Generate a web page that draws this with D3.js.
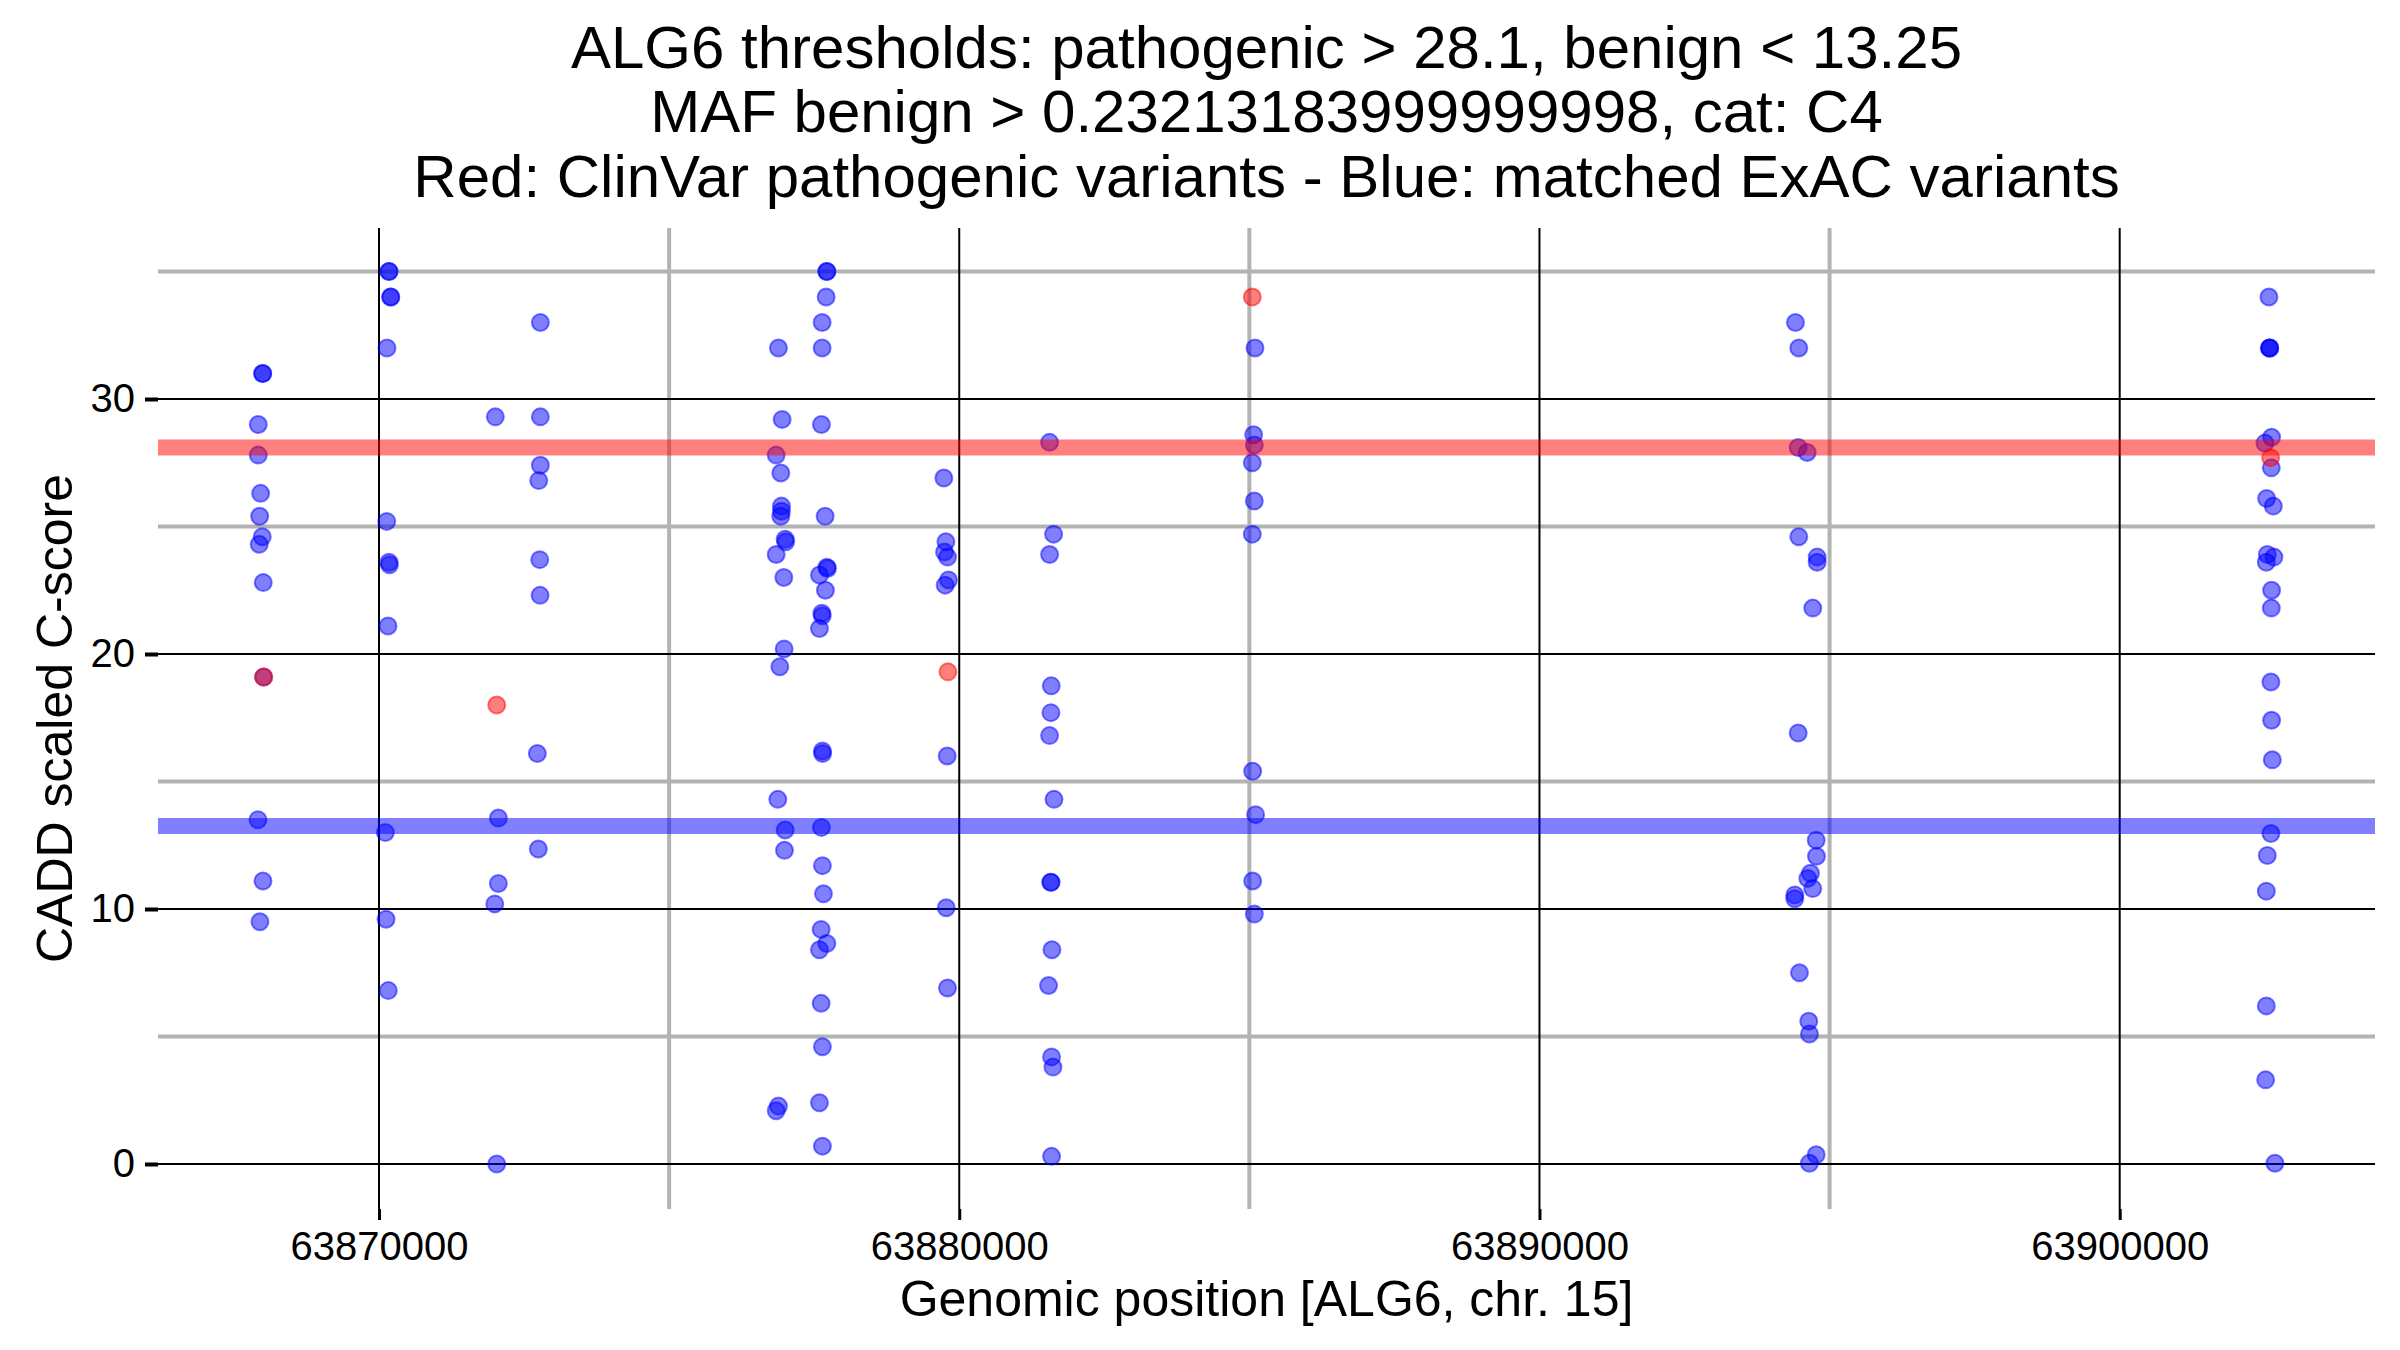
<!DOCTYPE html>
<html>
<head>
<meta charset="utf-8">
<script src="https://cdn.jsdelivr.net/npm/d3@7"></script>
<style>
  html, body { margin: 0; padding: 0; background: #ffffff; }
  svg { display: block; }
  text { font-family: "Liberation Sans", Arial, Helvetica, sans-serif; }
</style>
</head>
<body>
<svg id="chart" width="2400" height="1350"></svg>
<script>
// ---- Data ----
const titleLines = [
  "ALG6 thresholds: pathogenic > 28.1, benign < 13.25",
  "MAF benign > 0.23213183999999998, cat: C4",
  "Red: ClinVar pathogenic variants - Blue: matched ExAC variants"
];
const xLabel = "Genomic position [ALG6, chr. 15]";
const yLabel = "CADD scaled C-score";

const pathogenicThreshold = 28.1;
const benignThreshold = 13.25;

const xMajorTicks = [63870000, 63880000, 63890000, 63900000];
const xMinorTicks = [63875000, 63885000, 63895000];
const yMajorTicks = [0, 10, 20, 30];
const yMinorTicks = [5, 15, 25, 35];

// matched ExAC variants (blue)
const bluePos = [
  63867995, 63867995, 63867919, 63867919, 63867960, 63867943, 63867988, 63867936, 63868005, 63868012, 63867914, 63868000, 63867948,
  63870172, 63870172, 63870202, 63870202, 63870138, 63870133, 63870172, 63870180, 63870155, 63870109, 63870121, 63870160,
  63872005, 63872057, 63872057, 63871995, 63872029,
  63872781, 63872781, 63872781, 63872753, 63872770, 63872776, 63872729, 63872746,
  63876884, 63876948, 63876845, 63876925, 63876936, 63876936, 63876925, 63877000, 63877010, 63876845, 63876977, 63876982, 63876908, 63876873, 63877000, 63876988, 63876884, 63876845,
  63877718, 63877718, 63877706, 63877637, 63877637, 63877625, 63877689, 63877718, 63877730, 63877591, 63877694, 63877632, 63877640, 63877591, 63877642, 63877645, 63877625, 63877642, 63877660, 63877620, 63877718, 63877591, 63877620, 63877642, 63877591, 63877642,
  63879735, 63879770, 63879746, 63879798, 63879815, 63879758, 63879793, 63879776, 63879798,
  63881557, 63881626, 63881557, 63881586, 63881580, 63881557, 63881633, 63881580, 63881580, 63881598, 63881539, 63881591, 63881615, 63881591,
  63885097, 63885074, 63885086, 63885051, 63885086, 63885051, 63885057, 63885108, 63885057, 63885086,
  63894412, 63894469, 63894459, 63894614, 63894469, 63894786, 63894786, 63894710, 63894459, 63894769, 63894774, 63894670, 63894624, 63894710, 63894400, 63894400, 63894481, 63894641, 63894653, 63894769, 63894653,
  63902572, 63902584, 63902584, 63902584, 63902618, 63902503, 63902613, 63902532, 63902647, 63902544, 63902658, 63902527, 63902618, 63902613, 63902606, 63902618, 63902630, 63902606, 63902544, 63902527, 63902527, 63902515, 63902675
];
const blueScore = [
  31.0, 31.0, 29.0, 27.8, 26.3, 25.4, 24.6, 24.3, 22.8, 19.1, 13.5, 11.1, 9.5,
  35.0, 35.0, 34.0, 34.0, 32.0, 25.2, 23.6, 23.5, 21.1, 13.0, 9.6, 6.8,
  29.3, 13.57, 11.0, 10.2, 0.0,
  33.0, 29.3, 27.4, 26.8, 23.7, 22.3, 16.1, 12.35,
  32.0, 29.2, 27.8, 27.1, 25.8, 25.6, 25.4, 24.5, 24.4, 23.9, 23.0, 20.2, 19.5, 14.3, 13.1, 12.3, 2.27, 2.09,
  35.0, 35.0, 34.0, 33.0, 32.0, 29.0, 25.4, 23.4, 23.35, 23.1, 22.5, 21.6, 21.5, 21.0, 16.2, 16.1, 13.2, 11.7, 10.6, 9.2, 8.65, 8.4, 6.3, 4.6, 2.4, 0.7,
  26.9, 24.4, 24.0, 23.8, 22.9, 22.7, 16.0, 10.05, 6.9,
  28.3, 24.7, 23.9, 18.75, 17.7, 16.8, 14.3, 11.05, 11.05, 8.4, 7.0, 4.2, 3.8, 0.3,
  32.0, 28.6, 28.2, 27.5, 26.0, 24.7, 15.4, 13.7, 11.1, 9.8,
  33.0, 32.0, 28.1, 27.9, 24.6, 23.8, 23.6, 21.8, 16.9, 12.7, 12.07, 11.4, 11.2, 10.8, 10.55, 10.4, 7.5, 5.6, 5.1, 0.36, 0.03,
  34.0, 32.0, 32.0, 32.0, 28.5, 28.27, 27.3, 26.1, 25.8, 23.9, 23.8, 23.6, 22.5, 21.8, 18.9, 17.4, 15.85, 12.96, 12.1, 10.7, 6.2, 3.3, 0.03
];

// ClinVar pathogenic variants (red)
const redPos = [63868012, 63872029, 63879805, 63885051, 63902601];
const redScore = [19.1, 18.0, 19.3, 34.0, 27.7];

// ---- Layout ----
const panel = { left: 158, right: 2375, top: 228, bottom: 1209 };
const svg = d3.select("#chart");

const x = d3.scaleLinear().domain([63866191, 63904400]).range([panel.left, panel.right]);
const y = d3.scaleLinear().domain([-1.765, 36.706]).range([panel.bottom, panel.top]);

// Grid: minor (gray, thick)
const grid = svg.append("g");
grid.selectAll("line.ymin").data(yMinorTicks).enter().append("line")
  .attr("x1", panel.left).attr("x2", panel.right)
  .attr("y1", d => y(d)).attr("y2", d => y(d))
  .attr("stroke", "#b3b3b3").attr("stroke-width", 4);
grid.selectAll("line.xmin").data(xMinorTicks).enter().append("line")
  .attr("y1", panel.top).attr("y2", panel.bottom)
  .attr("x1", d => x(d)).attr("x2", d => x(d))
  .attr("stroke", "#b3b3b3").attr("stroke-width", 4);
// Grid: major (black, thin)
grid.selectAll("line.ymaj").data(yMajorTicks).enter().append("line")
  .attr("x1", panel.left).attr("x2", panel.right)
  .attr("y1", d => y(d)).attr("y2", d => y(d))
  .attr("stroke", "#000").attr("stroke-width", 2);
grid.selectAll("line.xmaj").data(xMajorTicks).enter().append("line")
  .attr("y1", panel.top).attr("y2", panel.bottom)
  .attr("x1", d => x(d)).attr("x2", d => x(d))
  .attr("stroke", "#000").attr("stroke-width", 2);

// Points
const blueData = bluePos.map((p, i) => ({ p, s: blueScore[i] }));
const redData = redPos.map((p, i) => ({ p, s: redScore[i] }));

function drawPoints(data, color) {
  svg.append("g").selectAll("circle").data(data).enter().append("circle")
    .attr("cx", d => x(d.p)).attr("cy", d => y(d.s)).attr("r", 8.5)
    .attr("fill", color).attr("fill-opacity", 0.5)
    .attr("stroke", color).attr("stroke-opacity", 0.5).attr("stroke-width", 2);
}
drawPoints(blueData, "#0000ff");
drawPoints(redData, "#ff0000");

// Threshold lines
svg.append("line")
  .attr("x1", panel.left).attr("x2", panel.right)
  .attr("y1", y(pathogenicThreshold)).attr("y2", y(pathogenicThreshold))
  .attr("stroke", "#ff0000").attr("stroke-opacity", 0.5).attr("stroke-width", 16);
svg.append("line")
  .attr("x1", panel.left).attr("x2", panel.right)
  .attr("y1", y(benignThreshold)).attr("y2", y(benignThreshold))
  .attr("stroke", "#0000ff").attr("stroke-opacity", 0.5).attr("stroke-width", 16);

// Axes
const xAxis = d3.axisBottom(x).tickValues(xMajorTicks).tickFormat(d3.format("d")).tickSize(11).tickPadding(12);
const gx = svg.append("g").attr("transform", `translate(0,${panel.bottom})`).call(xAxis);
gx.select(".domain").remove();
gx.selectAll(".tick line").attr("stroke", "#000").attr("stroke-width", 3);
gx.selectAll(".tick text").attr("font-size", 40).attr("fill", "#000")
  .attr("font-family", '"Liberation Sans", Arial, sans-serif');

const yAxis = d3.axisLeft(y).tickValues(yMajorTicks).tickFormat(d3.format("d")).tickSize(13).tickPadding(10);
const gy = svg.append("g").attr("transform", `translate(${panel.left},0)`).call(yAxis);
gy.select(".domain").remove();
gy.selectAll(".tick line").attr("stroke", "#000").attr("stroke-width", 4);
gy.selectAll(".tick text").attr("font-size", 40).attr("fill", "#000")
  .attr("font-family", '"Liberation Sans", Arial, sans-serif');

// Axis titles
svg.append("text")
  .attr("x", (panel.left + panel.right) / 2).attr("y", 1316)
  .attr("text-anchor", "middle").attr("font-size", 50).attr("fill", "#000")
  .text(xLabel);
svg.append("text")
  .attr("transform", `translate(72,${(panel.top + panel.bottom) / 2}) rotate(-90)`)
  .attr("text-anchor", "middle").attr("font-size", 50).attr("fill", "#000")
  .text(yLabel);

// Title
const titleY = [68, 132, 197];
svg.append("g").selectAll("text").data(titleLines).enter().append("text")
  .attr("x", (panel.left + panel.right) / 2).attr("y", (d, i) => titleY[i])
  .attr("text-anchor", "middle").attr("font-size", 60).attr("fill", "#000")
  .text(d => d);
</script>
</body>
</html>
